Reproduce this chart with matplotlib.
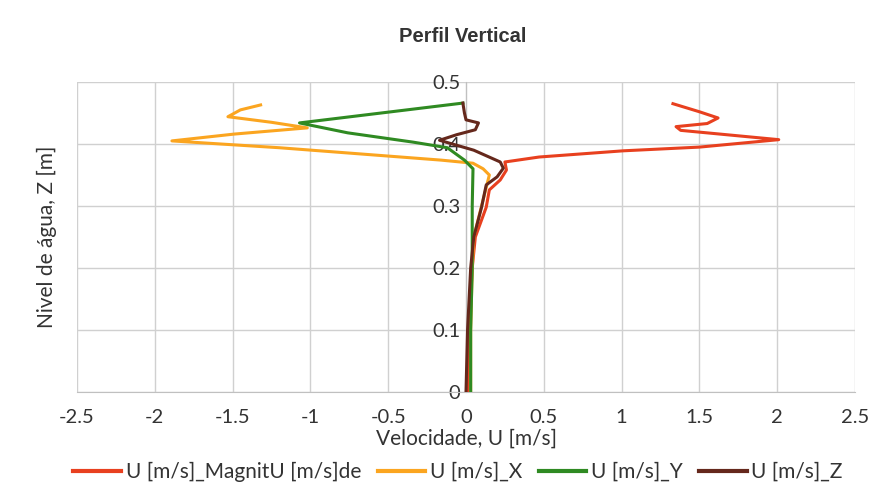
import matplotlib.pyplot as plt
from matplotlib.lines import Line2D

plt.rcParams['font.family'] = ['Lato', 'DejaVu Sans']

# perfis de velocidade (x = velocidade [m/s], z = nivel [m])
mag_u = [0.01, 0.02, 0.04, 0.06, 0.13, 0.15, 0.22, 0.26, 0.25, 0.47, 1.01, 1.50, 2.01, 1.38, 1.35, 1.55, 1.62, 1.50, 1.33]
mag_z = [0.0, 0.1, 0.2, 0.25, 0.298, 0.326, 0.342, 0.358, 0.371, 0.379, 0.389, 0.395, 0.407, 0.422, 0.428, 0.433, 0.442, 0.452, 0.465]

ux_u = [0.03, 0.03, 0.04, 0.05, 0.10, 0.15, 0.11, 0.045, -0.16, -1.20, -1.89, -1.49, -1.02, -1.25, -1.53, -1.45, -1.32]
ux_z = [0.0, 0.1, 0.2, 0.25, 0.30, 0.35, 0.36, 0.369, 0.374, 0.394, 0.405, 0.416, 0.426, 0.435, 0.444, 0.455, 0.463]

uy_u = [0.03, 0.03, 0.04, 0.04, 0.045, -0.01, -0.12, -0.34, -0.76, -1.07, -0.02]
uy_z = [0.0, 0.1, 0.2, 0.3, 0.36, 0.374, 0.394, 0.403, 0.418, 0.434, 0.466]

uz_u = [0.0, 0.01, 0.03, 0.05, 0.10, 0.13, 0.20, 0.24, 0.22, 0.05, -0.17, -0.06, 0.06, 0.08, 0.0, -0.01, -0.02]
uz_z = [0.0, 0.1, 0.2, 0.25, 0.298, 0.334, 0.347, 0.361, 0.371, 0.39, 0.406, 0.415, 0.423, 0.434, 0.439, 0.45, 0.466]

labels = ['U [m/s]_MagnitU [m/s]de', 'U [m/s]_X', 'U [m/s]_Y', 'U [m/s]_Z']
colors = ['#e8401f', '#fba520', '#2f8a22', '#65281c']

fig = plt.figure(figsize=(8.73, 4.95), dpi=100)
ax = fig.add_axes([77/873, 1-392/495, (855-77)/873, (392-82)/495])

series = [(mag_u, mag_z), (ux_u, ux_z), (uy_u, uy_z), (uz_u, uz_z)]
for (u, z), c in zip(series, colors):
    ax.plot(u, z, color=c, lw=2.2, solid_joinstyle='round', zorder=3)

ax.set_xlim(-2.5, 2.5)
ax.set_ylim(0, 0.5)
ax.set_xticks([-2.5, -2, -1.5, -1, -0.5, 0, 0.5, 1, 1.5, 2, 2.5])
ax.set_xticklabels(['-2.5', '-2', '-1.5', '-1', '-0.5', '0', '0.5', '1', '1.5', '2', '2.5'])
ax.set_yticks([0, 0.1, 0.2, 0.3, 0.4, 0.5])
ax.set_yticklabels(['0', '0.1', '0.2', '0.3', '0.4', '0.5'])
ax.grid(True, color='#d0d0d0', lw=1.0)
ax.set_axisbelow(True)

for s in ['top', 'right']:
    ax.spines[s].set_visible(False)
ax.spines['left'].set_position(('data', 0))
ax.spines['left'].set_color('#c0c0c0')
ax.spines['bottom'].set_color('#c0c0c0')
ax.spines['left'].set_zorder(2)
ax.tick_params(length=0, labelsize=14.5, colors='#333333', pad=4)
ax.tick_params(axis='x', pad=12)

ax.set_xlabel('Velocidade, U [m/s]', fontsize=15, color='#333333', labelpad=2)
fig.text(47/873, 1-237/495, 'Nivel de água, Z [m]', rotation=90, fontsize=15,
         color='#333333', ha='center', va='center')
fig.text(463/873, 1-36/495, 'Perfil Vertical', fontsize=14.5, fontweight='bold',
         color='#333333', ha='center', va='center', family=['Liberation Sans', 'DejaVu Sans'])

handles = [Line2D([], [], color=c, lw=3) for c in colors]
fig.legend(handles, labels, loc='center', bbox_to_anchor=(458/873, 1-472/495), ncol=4,
           frameon=False, fontsize=15, handlelength=2.3, handletextpad=0.2,
           columnspacing=0.8, labelcolor='#333333')

fig.savefig('out.png', dpi=100)
